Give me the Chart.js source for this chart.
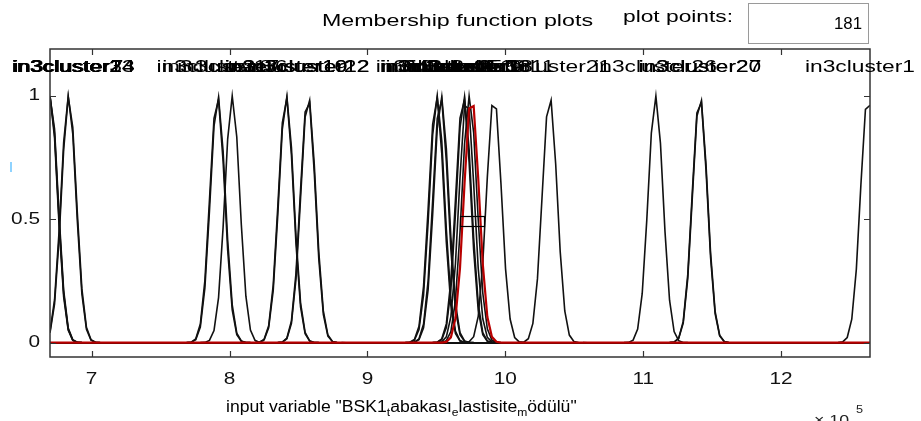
<!DOCTYPE html>
<html>
<head>
<meta charset="utf-8">
<script src="https://cdn.jsdelivr.net/npm/chart.js@4/dist/chart.umd.min.js"></script>
<style>
  html, body { margin: 0; padding: 0; background: #ffffff; }
  #wrap { width: 921px; height: 421px; position: relative; }
</style>
</head>
<body>
<div id="wrap"><canvas id="mf" width="921" height="421"></canvas></div>
<script>
// Input variable range (x 10^5) and sampling
const inputRange = [6.698, 12.645];
const plotPoints = 181;

// Gaussian membership functions from subtractive clustering
const mfNames = [
  'in3cluster1', 'in3cluster2', 'in3cluster3', 'in3cluster4', 'in3cluster5',
  'in3cluster6', 'in3cluster7', 'in3cluster8', 'in3cluster9', 'in3cluster10',
  'in3cluster11', 'in3cluster12', 'in3cluster13', 'in3cluster14', 'in3cluster15',
  'in3cluster16', 'in3cluster17', 'in3cluster18', 'in3cluster19', 'in3cluster20',
  'in3cluster21', 'in3cluster22', 'in3cluster23', 'in3cluster24', 'in3cluster25',
  'in3cluster26', 'in3cluster27'
];
const mfCenters = [
  12.630, 9.500, 6.700, 9.530, 9.695,
  8.020, 6.832, 7.911, 9.720, 8.409,
  9.918, 8.571, 9.740, 6.698, 9.505,
  9.700, 7.915, 9.755, 8.412, 11.410,
  10.322, 8.568, 6.835, 6.702, 9.535,
  11.090, 11.412
];
const mfSigma = 0.054;
const selectedMf = 17;

// Axis ticks
const xTicks = [7, 8, 9, 10, 11, 12];
const yTicks = [0, 0.5, 1];
const yRange = [-0.058, 1.19];

const xs = [];
for (let i = 0; i < plotPoints; i++) {
  xs.push(inputRange[0] + (inputRange[1] - inputRange[0]) * i / (plotPoints - 1));
}
function gaussmf(x, s, c) { return Math.exp(-((x - c) * (x - c)) / (2 * s * s)); }

const datasets = mfCenters.map((c, i) => ({
  label: mfNames[i],
  data: xs.map(x => ({ x: x, y: gaussmf(x, mfSigma, c) })),
  borderColor: i === selectedMf ? '#b80000' : '#111111',
  borderWidth: i === selectedMf ? 2.2 : 1.6,
  pointRadius: 0,
  tension: 0,
  fill: false,
  order: i === selectedMf ? 0 : 1
}));

const FONT = '"Liberation Sans", Arial, Helvetica, sans-serif';

// text drawn with a horizontal stretch factor
function sText(ctx, txt, x, y, align, size, sx, color) {
  ctx.save();
  ctx.font = size + 'px ' + FONT;
  ctx.fillStyle = color || '#000';
  ctx.textBaseline = 'middle';
  ctx.textAlign = align;
  ctx.translate(x, y);
  ctx.scale(sx, 1);
  ctx.fillText(txt, 0, 0);
  ctx.restore();
}
function rawWidth(ctx, txt, size) {
  ctx.save();
  ctx.font = size + 'px ' + FONT;
  const w = ctx.measureText(txt).width;
  ctx.restore();
  return w;
}

const decorations = {
  id: 'mfDecorations',
  afterDatasetsDraw(chart) {
    const ctx = chart.ctx;
    const xs_ = chart.scales.x, ys_ = chart.scales.y;
    const a = chart.chartArea;

    // horizontal stretch of the GUI font
    const SX = 110 / rawWidth(ctx, 'in3cluster1', 16);
    const TITLE_SX = 271 / rawWidth(ctx, 'Membership function plots', 16);

    // selected MF handle box at half height
    const cx = xs_.getPixelForValue(mfCenters[selectedMf]);
    const cy = ys_.getPixelForValue(0.5);
    ctx.save();
    ctx.strokeStyle = '#000';
    ctx.lineWidth = 1.2;
    ctx.strokeRect(Math.round(cx - 12) + 0.5, Math.round(cy - 3) + 0.5, 24, 10);
    ctx.restore();

    // axes box
    ctx.save();
    ctx.strokeStyle = '#333';
    ctx.lineWidth = 1.5;
    ctx.strokeRect(a.left, a.top, a.right - a.left, a.bottom - a.top);
    ctx.lineWidth = 1.2;
    ctx.beginPath();
    xTicks.forEach(t => {
      const px = Math.round(xs_.getPixelForValue(t)) + 0.5;
      ctx.moveTo(px, a.top); ctx.lineTo(px, a.top + 6);
      ctx.moveTo(px, a.bottom); ctx.lineTo(px, a.bottom - 6);
    });
    yTicks.forEach(t => {
      const py = Math.round(ys_.getPixelForValue(t)) + 0.5;
      ctx.moveTo(a.left, py); ctx.lineTo(a.left + 6, py);
      ctx.moveTo(a.right, py); ctx.lineTo(a.right - 6, py);
    });
    ctx.stroke();
    ctx.restore();

    // tick labels
    xTicks.forEach(t => sText(ctx, String(t), xs_.getPixelForValue(t), 380, 'center', 16, 1.3, '#111'));
    yTicks.forEach(t => sText(ctx, String(t), 40, ys_.getPixelForValue(t), 'right', 16, 1.3, '#111'));

    // MF names above each curve, kept inside the figure
    const labelY = ys_.getPixelForValue(1.113);
    mfCenters.forEach((c, i) => {
      const w = rawWidth(ctx, mfNames[i], 16) * SX;
      let px = xs_.getPixelForValue(c);
      px = Math.max(px, 12 + w / 2);
      px = Math.min(px, 915 - w / 2);
      sText(ctx, mfNames[i], px, labelY, 'center', 16, SX, '#000');
    });

    // x-axis title with TeX-style subscripts
    const parts = [
      ['input variable "BSK1', 0], ['t', 1], ['abakas\u0131', 0], ['e', 1],
      ['lastisite', 0], ['m', 1], ['\u00f6d\u00fcl\u00fc"', 0]
    ];
    const TX = 1.1;
    let x = 226;
    parts.forEach(p => {
      const size = p[1] ? 11 : 16;
      const y = p[1] ? 413 : 408;
      sText(ctx, p[0], x, y, 'left', size, TX, '#000');
      x += rawWidth(ctx, p[0], size) * TX;
    });

    // exponent of the x axis
    sText(ctx, '\u00d7 10', 814, 421, 'left', 14, 1.27, '#222');
    sText(ctx, '5', 856, 410, 'left', 10, 1.27, '#222');

    // header
    sText(ctx, 'Membership function plots', 322, 22, 'left', 16, TITLE_SX, '#000');
    sText(ctx, 'plot points:', 623, 18, 'left', 16, 110 / rawWidth(ctx, 'plot points:', 16), '#000');
    ctx.save();
    ctx.strokeStyle = '#9a9a9a';
    ctx.lineWidth = 1;
    ctx.strokeRect(748.5, 3.5, 120, 40);
    ctx.restore();
    sText(ctx, String(plotPoints), 862, 25, 'right', 16, 1.05, '#000');

    // small highlight mark at the left margin
    ctx.save();
    ctx.strokeStyle = '#8fd3ff';
    ctx.lineWidth = 2;
    ctx.beginPath();
    ctx.moveTo(11, 162); ctx.lineTo(11, 172);
    ctx.stroke();
    ctx.restore();
  }
};

new Chart(document.getElementById('mf'), {
  type: 'line',
  data: { datasets: datasets },
  options: {
    responsive: false,
    animation: false,
    parsing: false,
    layout: { padding: { left: 50, right: 51, top: 49, bottom: 64 } },
    plugins: { legend: { display: false }, tooltip: { enabled: false }, title: { display: false } },
    scales: {
      x: { type: 'linear', display: false, min: inputRange[0], max: inputRange[1] },
      y: { type: 'linear', display: false, min: yRange[0], max: yRange[1] }
    }
  },
  plugins: [decorations]
});
</script>
</body>
</html>
